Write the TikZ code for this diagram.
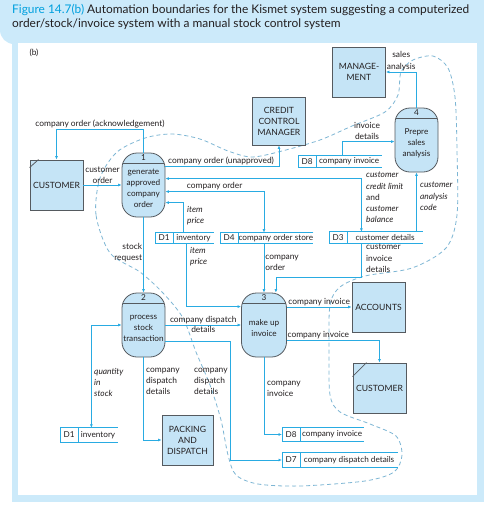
\documentclass[tikz,border=0pt]{standalone}
\usepackage{fontspec}
\setmainfont{Lato}
\usetikzlibrary{arrows.meta, positioning}

\definecolor{ink}{RGB}{35,31,32}
\definecolor{edgegrey}{RGB}{85,90,95}
\definecolor{boxfill}{RGB}{197,228,246}
\definecolor{framebg}{RGB}{204,234,250}
\definecolor{cyanline}{RGB}{41,171,226}
\definecolor{capcyan}{RGB}{0,160,222}
\definecolor{boundc}{RGB}{125,182,212}

\tikzset{
  ext/.style={draw=edgegrey, fill=boxfill, line width=0.9pt, minimum width=53pt, minimum height=50pt,
    inner sep=1pt, align=center, text=ink, font=\fontsize{8.6}{11}\selectfont},
  proc/.style={draw=edgegrey, fill=boxfill, line width=0.8pt, rounded corners=15pt,
    minimum width=43pt, minimum height=64pt, inner sep=0pt,
    path picture={\draw[edgegrey, line width=0.8pt]
      ([yshift=-10pt]path picture bounding box.north west) -- ([yshift=-10pt]path picture bounding box.north east);}},
  ptext/.style={inner sep=0pt, yshift=-3pt, align=center, text=ink, font=\fontsize{8.2}{11}\selectfont},
  num/.style={anchor=north, inner sep=0.5pt, yshift=-1.2pt, text=ink, font=\fontsize{8.2}{9}\selectfont},
  sid/.style={inner sep=0pt, minimum width=18pt, text=ink, font=\fontsize{8.2}{9}\selectfont},
  sname/.style={inner sep=0pt, text=ink, font=\fontsize{8.2}{9}\selectfont},
  storeline/.style={draw=cyanline, line width=0.7pt},
  flow/.style={draw=cyanline, line width=0.8pt, ->},
  flowb/.style={draw=cyanline, line width=0.8pt, <->},
  lbl/.style={inner sep=1pt, align=left, text=ink, font=\fontsize{8.4}{11.2}\selectfont},
  ilbl/.style={lbl, font=\fontsize{8.4}{11.2}\selectfont\itshape},
  boundary/.style={draw=boundc, line width=0.8pt, dash pattern=on 4pt off 3pt}
}

\begin{document}
\begin{tikzpicture}[x=1pt, y=-1pt, >={Latex[length=3.5pt,width=3pt]}]
\useasboundingbox (0,0) rectangle (484,507);

% frame and caption
\fill[framebg] (484,0) -- (0,0) [rounded corners=14pt] -- (0,44) -- (40,44) [sharp corners] -- (484,44) -- cycle;
\fill[framebg] (12,40) rectangle (484,502);
\fill[white] (18,43) rectangle (477,495);
\node[anchor=north west, inner sep=0pt, align=left, text=ink, font=\fontsize{11.9}{14.5}\selectfont] (cap) at (12,4)
  {\textcolor{capcyan}{Figure 14.7(b)} Automation boundaries for the Kismet system suggesting a computerized\\
   order/stock/invoice system with a manual stock control system};
\node[lbl] (tag) at (34,53) {(b)};

% automation boundary
\draw[boundary] plot [smooth cycle, tension = 0.5] coordinates {
  (110,253) (96,215) (100,178) (117,152) (145,138) (172,134) (200,139) (228,151) (252,157)
  (282,151) (320,140) (352,126) (385,112) (398,95) (401,72) (413,60) (433,56) (448,68)
  (455,97) (457,150) (457,215) (446,248) (412,268) (365,276) (340,287) (330,305) (329,350)
  (330,395) (340,412) (370,424) (396,436) (402,455) (394,472) (365,481) (300,486) (258,484)
  (236,475) (228,455) (221,420) (210,385) (196,352) (183,318) (163,293) (140,272) };

% external entities
\node[ext] (mgmt) at (359,72) {MANAGE-\\MENT};
\node[ext, minimum height=48pt] (ccm) at (279,121) {CREDIT\\CONTROL\\MANAGER};
\node[ext] (cust1) at (56.5,185) {CUSTOMER};
\node[ext] (acc) at (378.5,307) {ACCOUNTS};
\node[ext] (cust2) at (379.5,388) {CUSTOMER};
\node[ext, minimum width=51pt] (pack) at (187.5,440) {PACKING\\AND\\DISPATCH};
\draw[edgegrey, line width=0.8pt] ([yshift=-8pt]cust1.north west) -- ([xshift=9pt]cust1.north west);
\draw[edgegrey, line width=0.8pt] ([yshift=-14pt]cust2.north west) -- ([xshift=14pt]cust2.north west);

% processes
\node[proc, label={[num]north:1}, label={[ptext]center:generate\\approved\\company\\order}] (p1) at (143.5,185) {};
\node[proc, label={[num]north:2}, label={[ptext]center:process\\stock\\transaction}] (p2) at (143.5,325) {};
\node[proc, minimum width=45pt, label={[num]north:3}, label={[ptext]center:make up\\invoice}] (p3) at (264,325) {};
\node[proc, label={[num]north:4}, label={[ptext]center:Prepre\\sales\\analysis}] (p4) at (416.5,140) {};

% data stores
\foreach \nm/\x/\y/\h/\id/\txt/\w in {
    d1a/155/238/10.5/D1/inventory/40, d4/220/238/10.5/D4/company order store/70,
    d8a/298/161.5/11/D8/company invoice/65, d3/329/237.5/11/D3/customer details/75,
    d1b/60/435/14/D1/inventory/39, d8b/282/434.5/14/D8/company invoice/63,
    d7/282/460/14/D7/company dispatch details/97} {
  \node[sid, minimum height=\h pt, anchor=west] (\nm) at (\x,\y) {\id};
  \node[sname, minimum height=\h pt, minimum width=\w pt, right=0pt of \nm] (\nm-n) {\txt};
  \draw[storeline] (\nm-n.north east) -- (\nm.north west) -- (\nm.south west) -- (\nm-n.south east);
  \draw[storeline] (\nm.north east) -- (\nm.south east);
}

% flows around process 1
\draw[flow] (p1.north) -- ++(0,-23) -| node[lbl, pos=0.25, above] {company order (acknowledgement)} (cust1.north);
\draw[flow] (cust1.east) -- node[lbl, above, align=center] {customer\\order} (p1.west);
\draw[flow] ([yshift=-14pt]p1.north east) -| node[lbl, pos=0.245, above] {company order (unapproved)} (ccm.south);
\draw[flowb] ([yshift=-26pt]p1.north east) -| ([xshift=14pt]d3-n.north west);
\draw[flowb] ([yshift=-39pt]p1.north east) -| node[lbl, pos=0.25, above] {company order} (d4-n.north west -| p3.north);
\draw[flow] ([xshift=10pt]d1a-n.north west) |- ([yshift=-50pt]p1.north east);
\node[ilbl, anchor=north west] (l-ip1) at (186,205) {item\\price};
\node[lbl, anchor=north west] (l-ccl) at (365,171) {\itshape customer\\\itshape credit limit\\and\\\itshape customer\\\itshape balance};

% flows into process 3
\draw[flow] ([xshift=13pt]d1a-n.south west) |- ([yshift=-14pt]p3.north west);
\node[ilbl, anchor=north west] (l-ip3) at (189,246) {item\\price};
\draw[flow] (d4-n.south west -| p3.north) -- node[lbl, pos=0.4, right] {company\\order} (p3.north);
\draw[flow] ([xshift=14pt]d3-n.south west) -- ++(0,34) -| ([xshift=-11pt]p3.north east);
\node[lbl, anchor=north west] (l-cid) at (365,243) {customer\\invoice\\details};

% process 4
\draw[flow] (d3-n.north -| p4.south) -- (p4.south);
\node[ilbl, anchor=north west] (l-cac) at (419,181) {customer\\analysis\\code};
\draw[flow] ([xshift=26pt]d8a-n.north west) |- ([yshift=-34pt]p4.north west);
\node[lbl, anchor=south, align=center] (l-ind) at (367,141) {invoice\\details};
\draw[flow] (p4.north) |- node[lbl, pos=0.75, above, align=center] {sales\\analysis} (mgmt.east);

% process 2
\draw[flow] (p1.south) -- node[lbl, pos=0.47, left, align=right] {stock\\request} (p2.north);
\draw[flow] (p2.east) -- node[lbl, above] {company dispatch} node[lbl, below] {details} (p3.west);
\draw[flowb] (p2.west) -| ([xshift=13pt]d1b-n.north west);
\node[ilbl, anchor=north west] (l-qis) at (93,367) {quantity\\in\\stock};
\draw[flow] (p2.south) |- (pack.west);
\node[lbl, anchor=north west] (l-cdd1) at (145,367) {company\\dispatch\\details};
\draw[flow] ([yshift=16pt]p2.south east) -- ++(65,0) |- (d7.west);
\node[lbl, anchor=north west] (l-cdd2) at (193,367) {company\\dispatch\\details};

% process 3 outputs
\draw[flow] (p3.east |- acc.west) -- node[lbl, above] {company invoice} (acc.west);
\draw[flow] ([yshift=17pt]p3.south east) -| node[lbl, pos=0.17, above] {company invoice} (cust2.north);
\draw[flow] (p3.south) |- (d8b.west);
\node[lbl, anchor=north west] (l-ci) at (266,380) {company\\invoice};
\end{tikzpicture}
\end{document}
